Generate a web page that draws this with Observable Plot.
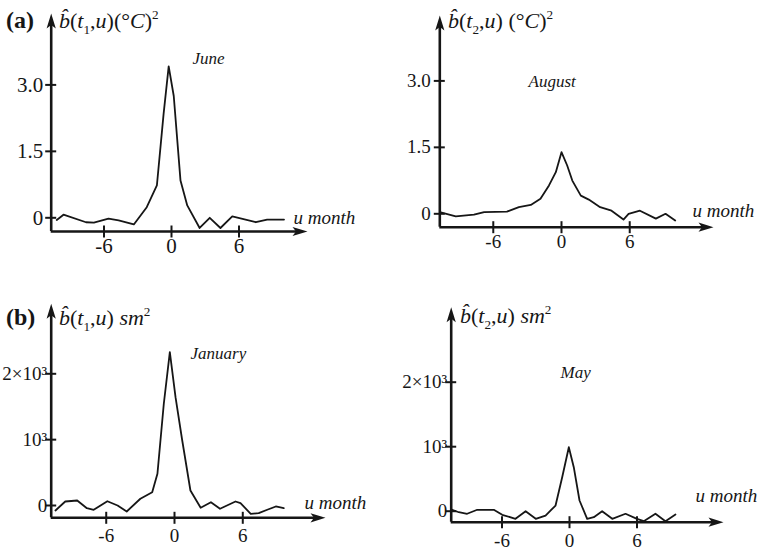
<!DOCTYPE html>
<html>
<head>
<meta charset="utf-8">
<script src="https://cdn.jsdelivr.net/npm/d3@7"></script>
<script src="https://cdn.jsdelivr.net/npm/@observablehq/plot@0.6"></script>
<style>
  body { margin: 0; background: #fff; }
  #fig { position: relative; width: 760px; height: 554px; overflow: hidden; }
  #fig svg { position: absolute; }
</style>
</head>
<body>
<div id="fig"></div>
<script>
// Estimated covariance b(t, u) against the lag u (months)
const juneLag = [-10.2, -9.6, -7.6, -6.9, -5.6, -4.7, -3.35, -2.2, -1.3, -0.7, -0.25, 0.2, 0.8, 1.4, 2.5, 3.4, 4.35, 5.4, 7.5, 8.5, 10.0];
const juneCov = [-0.05, 0.07, -0.10, -0.11, -0.02, -0.06, -0.15, 0.24, 0.73, 2.35, 3.42, 2.75, 0.84, 0.28, -0.23, 0.0, -0.23, 0.03, -0.10, -0.04, -0.04];

const augustLag = [-10.7, -9.3, -7.7, -6.8, -4.8, -3.75, -2.7, -1.85, -1.1, -0.5, 0, 0.5, 0.95, 1.7, 2.4, 3.4, 4.4, 5.45, 5.9, 6.9, 8.3, 9.15, 10.0];
const augustCov = [0.04, -0.06, -0.02, 0.04, 0.05, 0.15, 0.20, 0.34, 0.64, 0.94, 1.39, 1.09, 0.75, 0.41, 0.32, 0.15, 0.07, -0.13, 0.0, 0.07, -0.11, 0.0, -0.15];

const januaryLag = [-10.46, -9.6, -8.55, -7.7, -7.1, -5.9, -5.0, -4.2, -3.0, -1.96, -1.5, -0.94, -0.41, 0.09, 0.68, 1.4, 2.3, 3.2, 4.0, 5.36, 5.8, 6.7, 7.4, 8.15, 8.9, 9.6];
const januaryCov = [-76, 61, 76, -41, -65, 65, 0, -91, 102, 202, 482, 1545, 2329, 1645, 987, 228, -35, 50, -50, 61, 35, -126, -117, -65, -15, -41];

const mayLag = [-10.43, -9.84, -9.1, -8.2, -6.73, -5.98, -4.8, -3.9, -3.0, -2.13, -1.24, -0.65, -0.06, 0.38, 0.89, 1.57, 2.16, 2.9, 3.8, 4.98, 6.0, 6.6, 7.64, 8.53, 9.42];
const mayCov = [22, -16, -40, 22, 22, -56, -118, 0, -118, -67, 88, 527, 992, 682, 166, -118, -93, 0, -118, -40, -118, -155, -40, -155, -51];

// Axis ticks
const monthTicks = [-6, 0, 6];
const monthTickLabels = ["-6", "0", "6"];
const tempTicks = [0, 1.5, 3.0];
const tempTickLabels = ["0", "1.5", "3.0"];
const areaTicks = [0, 1000, 2000];
const areaTickLabels = ["0", "10³", "2×10³"];

const ink = "#161616";
const serif = "'Liberation Serif', 'DejaVu Serif', serif";

// Filled arrowheads with the tip at the anchor point
const arrowUp = { draw(c) { c.moveTo(0, 0); c.lineTo(4.6, 15); c.lineTo(0, 11.5); c.lineTo(-4.6, 15); c.closePath(); } };
const arrowRight = { draw(c) { c.moveTo(0, 0); c.lineTo(-15, -4.6); c.lineTo(-11.5, 0); c.lineTo(-15, 4.6); c.closePath(); } };
// Tick marks that cross the axis line
const tickAcrossY = { draw(c) { c.moveTo(-6, 0); c.lineTo(5, 0); } };
const tickAcrossX = { draw(c) { c.moveTo(0, -6); c.lineTo(0, 6); } };

function rows(lag, cov) { return lag.map((u, i) => ({ u, b: cov[i] })); }

// Rich label (hat, italics, sub/superscripts) built from tspans
function richText(svg, x, y, size, parts) {
  const t = d3.select(svg).append("text")
    .attr("x", x).attr("y", y)
    .attr("text-anchor", "start")
    .attr("font-family", serif).attr("font-size", size).attr("fill", ink);
  let shift = 0;
  for (const p of parts) {
    const s = t.append("tspan").text(p.t);
    const target = p.sub ? size * 0.28 : p.sup ? -size * 0.42 : 0;
    if (target !== shift) s.attr("dy", target - shift);
    shift = target;
    if (p.sub || p.sup) s.attr("font-size", size * 0.6);
    if (p.i) s.attr("font-style", "italic");
    if (p.b) s.attr("font-weight", "bold");
  }
}

function panel(cfg) {
  const xd = [(cfg.xLeft - cfg.xZero) / cfg.xPer, (cfg.xTip - cfg.xZero) / cfg.xPer];
  const yd = [(cfg.yZero - cfg.yBottom) / cfg.yPer, (cfg.yZero - cfg.yTip) / cfg.yPer];
  const xLineEnd = xd[1] - 9 / cfg.xPer;
  const yLineEnd = yd[1] - 9 / cfg.yPer;
  const svg = Plot.plot({
    width: 380,
    height: 277,
    margin: 0,
    style: { background: "transparent", overflow: "visible" },
    x: { domain: xd, range: [cfg.xLeft, cfg.xTip], axis: null },
    y: { domain: yd, range: [cfg.yBottom, cfg.yTip], axis: null },
    marks: [
      // axes with arrowheads
      Plot.ruleY([yd[0]], { x1: xd[0], x2: xLineEnd, stroke: ink, strokeWidth: 2.6 }),
      Plot.ruleX([xd[0]], { y1: yd[0], y2: yLineEnd, stroke: ink, strokeWidth: 2.6 }),
      Plot.dot([0], { x: xd[1], y: yd[0], symbol: arrowRight, fill: ink, stroke: "none" }),
      Plot.dot([0], { x: xd[0], y: yd[1], symbol: arrowUp, fill: ink, stroke: "none" }),
      // ticks
      Plot.dot(cfg.yTicks, { x: xd[0], y: d => d, symbol: tickAcrossY, fill: "none", stroke: ink, strokeWidth: 2 }),
      Plot.dot(monthTicks, { x: d => d, y: yd[0], symbol: tickAcrossX, fill: "none", stroke: ink, strokeWidth: 2 }),
      Plot.text(cfg.yTicks, { x: xd[0], y: d => d, text: (d, i) => cfg.yTickLabels[i], textAnchor: "end", dx: cfg.yLabelDx, fontSize: cfg.tickSize, fontFamily: serif, fill: ink }),
      Plot.text(monthTicks, { x: d => d, y: yd[0], text: (d, i) => monthTickLabels[i], lineAnchor: "top", dy: cfg.xLabelDy, fontSize: cfg.tickSize, fontFamily: serif, fill: ink }),
      // covariance curve
      Plot.line(rows(cfg.lag, cfg.cov), { x: "u", y: "b", stroke: ink, strokeWidth: 1.8, strokeLinejoin: "round" }),
      // month name and lag axis name
      Plot.text([cfg.month], { frameAnchor: "top-left", dx: cfg.monthPos[0], dy: cfg.monthPos[1], textAnchor: "start", lineAnchor: "bottom", fontSize: 17, fontStyle: "italic", fontFamily: serif, fill: ink }),
      Plot.text(["u month"], { frameAnchor: "top-left", dx: cfg.lagPos[0], dy: cfg.lagPos[1], textAnchor: "start", lineAnchor: "bottom", fontSize: 19, fontStyle: "italic", fontFamily: serif, fill: ink })
    ]
  });
  svg.style.left = cfg.ox + "px";
  svg.style.top = cfg.oy + "px";
  if (cfg.tag) richText(svg, 6, cfg.titlePos[1], 24, [{ t: cfg.tag, b: true }]);
  richText(svg, cfg.titlePos[0], cfg.titlePos[1], 22, cfg.title);
  document.getElementById("fig").appendChild(svg);
}

const tempUnit = [{ t: "(" }, { t: "°" }, { t: "C", i: true }, { t: ")" }, { t: "2", sup: true }];
const areaUnit = [{ t: " " }, { t: "sm", i: true }, { t: "2", sup: true }];
function bHat(k) {
  return [{ t: "b\u0302", i: true }, { t: "(" }, { t: "t", i: true }, { t: k, sub: true }, { t: "," }, { t: "u", i: true }, { t: ")" }];
}

panel({
  ox: 0, oy: 0,
  xZero: 171, xPer: 11.25, xLeft: 50.7, xTip: 307,
  yZero: 217.3, yPer: 44.3, yBottom: 231, yTip: 13,
  yTicks: tempTicks, yTickLabels: tempTickLabels,
  tickSize: 21, yLabelDx: -8, xLabelDy: 7,
  lag: juneLag, cov: juneCov,
  month: "June", monthPos: [192, 63], lagPos: [293, 223],
  tag: "(a)", titlePos: [59, 28], title: [...bHat("1"), ...tempUnit]
});

panel({
  ox: 380, oy: 0,
  xZero: 181, xPer: 11.37, xLeft: 59.3, xTip: 333,
  yZero: 213.3, yPer: 44.3, yBottom: 226.7, yTip: 15,
  yTicks: tempTicks, yTickLabels: tempTickLabels,
  tickSize: 19, yLabelDx: -9, xLabelDy: 7,
  lag: augustLag, cov: augustCov,
  month: "August", monthPos: [148, 86], lagPos: [312, 216],
  titlePos: [68, 28], title: [...bHat("2"), { t: " " }, ...tempUnit]
});

panel({
  ox: 0, oy: 277,
  xZero: 174, xPer: 11.38, xLeft: 50.7, xTip: 325,
  yZero: 228, yPer: 0.06585, yBottom: 240.3, yTip: 26.3,
  yTicks: areaTicks, yTickLabels: areaTickLabels,
  tickSize: 19, yLabelDx: -4, xLabelDy: 11,
  lag: januaryLag, cov: januaryCov,
  month: "January", monthPos: [190, 81], lagPos: [304, 231],
  tag: "(b)", titlePos: [59, 48], title: [...bHat("1"), ...areaUnit]
});

panel({
  ox: 380, oy: 277,
  xZero: 189, xPer: 11.25, xLeft: 70.7, xTip: 343,
  yZero: 233.7, yPer: 0.0645, yBottom: 244.7, yTip: 29.7,
  yTicks: areaTicks, yTickLabels: areaTickLabels,
  tickSize: 19, yLabelDx: -4, xLabelDy: 11,
  lag: mayLag, cov: mayCov,
  month: "May", monthPos: [180, 100], lagPos: [315, 224],
  titlePos: [80, 46], title: [...bHat("2"), ...areaUnit]
});
</script>
</body>
</html>
